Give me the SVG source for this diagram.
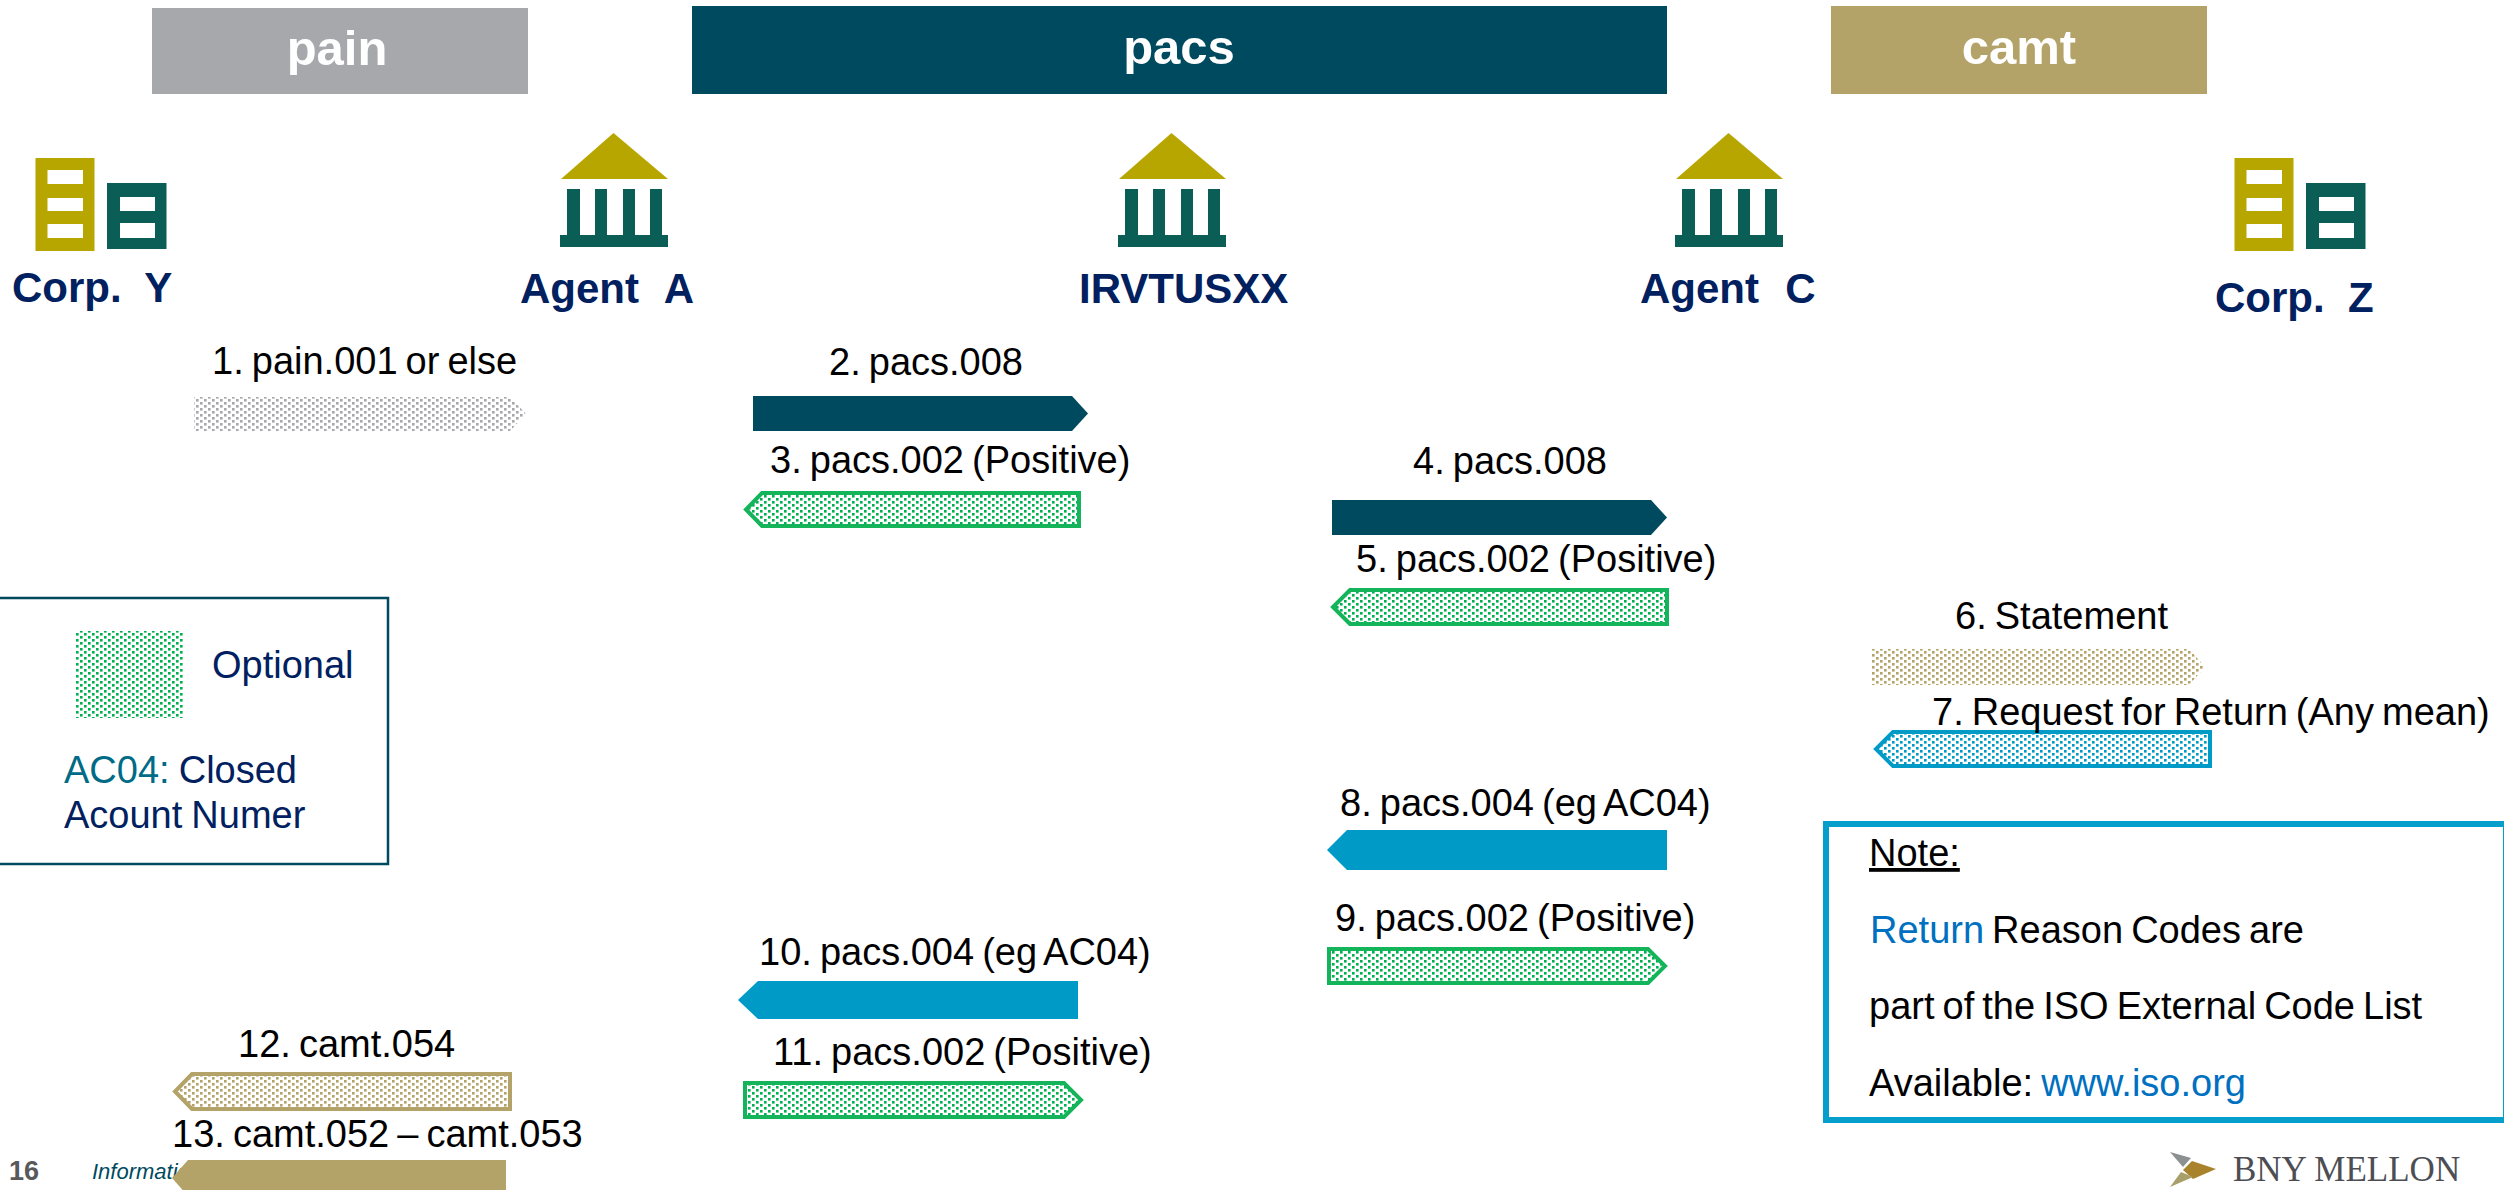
<svg xmlns="http://www.w3.org/2000/svg" width="2504" height="1190" viewBox="0 0 2504 1190">
<style>
text{font-family:"Liberation Sans",Arial,sans-serif;white-space:pre}
.m{font-size:38px;fill:#000;word-spacing:-2.500px}
.n{font-size:42px;font-weight:bold;fill:#002060}
.w{word-spacing:1.5px}
.h{font-size:49px;font-weight:bold;fill:#fff;text-anchor:middle}
.l{font-size:38px;fill:#002060;word-spacing:-1.5px}
.gold{fill:#b8a600}.teal{fill:#0a5e55}.win{fill:#fff}
</style>
<defs>
<pattern id="dg" width="8" height="6" patternUnits="userSpaceOnUse"><rect width="8" height="6" fill="#fff"/><rect width="2.600" height="2.600" fill="#00b050"/><rect x="4" y="3" width="2.600" height="2.600" fill="#00b050"/></pattern>
<pattern id="dt" width="8" height="6" patternUnits="userSpaceOnUse"><rect width="8" height="6" fill="#fff"/><rect width="2.600" height="2.600" fill="#b3a369"/><rect x="4" y="3" width="2.600" height="2.600" fill="#b3a369"/></pattern>
<pattern id="da" width="8" height="6" patternUnits="userSpaceOnUse"><rect width="8" height="6" fill="#fff"/><rect width="2.600" height="2.600" fill="#a7a8ab"/><rect x="4" y="3" width="2.600" height="2.600" fill="#a7a8ab"/></pattern>
<pattern id="db" width="8" height="6" patternUnits="userSpaceOnUse"><rect width="8" height="6" fill="#fff"/><rect width="2.600" height="2.600" fill="#009ac7"/><rect x="4" y="3" width="2.600" height="2.600" fill="#009ac7"/></pattern>
<g id="corp"><rect class="gold" x="35.500" y="158" width="59" height="93"/><rect class="win" x="47.500" y="170" width="35.500" height="14"/><rect class="win" x="47.500" y="198" width="35.500" height="13"/><rect class="win" x="47.500" y="224" width="35.500" height="14"/><rect class="teal" x="107" y="183" width="59.500" height="66"/><rect class="win" x="120" y="197" width="35" height="14"/><rect class="win" x="120" y="223" width="35" height="15"/></g>
<g id="bank"><path class="gold" d="M613.500 133L668 179H561Z"/><path class="teal" d="M567 189h13v46h15v-46h12v46h16v-46h12v46h15v-46h12v46h6v12H560v-12h7Z"/></g>
</defs>
<rect width="2504" height="1190" fill="#fff"/>
<g id="band-pain"><rect x="152" y="8" width="376" height="86" fill="#a7a8ab"/><text class="h" x="337" y="65">pain</text></g>
<g id="band-pacs"><rect x="692" y="6" width="975" height="88" fill="#004a5f"/><text class="h" x="1179" y="64">pacs</text></g>
<g id="band-camt"><rect x="1831" y="6" width="376" height="88" fill="#b3a369"/><text class="h" x="2019" y="64">camt</text></g>
<g id="corp-y"><use href="#corp"/><text class="n" x="12" y="302">Corp.  Y</text></g>
<g id="agent-a"><use href="#bank"/><text class="n w" x="520" y="303">Agent  A</text></g>
<g id="irvtusxx"><use href="#bank" x="558"/><text class="n" x="1079" y="303">IRVTUSXX</text></g>
<g id="agent-c"><use href="#bank" x="1115"/><text class="n w" x="1640" y="303">Agent  C</text></g>
<g id="corp-z"><g transform="translate(2199 0)"><use href="#corp"/></g><text class="n" x="2215" y="312">Corp.  Z</text></g>
<g id="footer"><text x="9" y="1180" font-size="27" font-weight="bold" fill="#58595b">16</text><text x="92" y="1179" font-size="22" font-style="italic" fill="#004a5f">Informatio</text></g>
<g id="connectors">
<path d="M194 397H510L526 414L510 431H194Z" fill="url(#da)"/>
<path d="M753 396H1072L1088 413.500L1072 431H753Z" fill="#004a5f"/>
<path d="M1079 493H762L746 509.500L762 526H1079Z" fill="url(#dg)" stroke="#14b45a" stroke-width="4"/>
<path d="M1332 500H1651L1667 517.500L1651 535H1332Z" fill="#004a5f"/>
<path d="M1667 590H1350L1333 607L1350 624H1667Z" fill="url(#dg)" stroke="#14b45a" stroke-width="4"/>
<path d="M1872 649H2189L2205 667L2189 685H1872Z" fill="url(#dt)"/>
<path d="M2210 732H1893L1876 749L1893 766H2210Z" fill="url(#db)" stroke="#009ac7" stroke-width="4"/>
<path d="M1667 830H1347L1327 850L1347 870H1667Z" fill="#009ac7"/>
<path d="M1329 949V983H1648L1665 966L1648 949Z" fill="url(#dg)" stroke="#14b45a" stroke-width="4"/>
<path d="M1078 981H758L738 1000L758 1019H1078Z" fill="#009ac7"/>
<path d="M745 1083V1117H1064L1081 1100L1064 1083Z" fill="url(#dg)" stroke="#14b45a" stroke-width="4"/>
<path d="M510 1074H192L175 1091.500L192 1109H510Z" fill="url(#dt)" stroke="#b3a369" stroke-width="4"/>
<path d="M506 1160H188L172 1178L188 1196H506Z" fill="#b3a369"/>
</g>
<g id="labels">
<text class="m" x="212" y="374">1. pain.001 or else</text>
<text class="m" x="829" y="375">2. pacs.008</text>
<text class="m" x="770" y="473">3. pacs.002 (Positive)</text>
<text class="m" x="1413" y="474">4. pacs.008</text>
<text class="m" x="1356" y="572">5. pacs.002 (Positive)</text>
<text class="m" x="1955" y="629">6. Statement</text>
<text class="m" x="1932" y="725">7. Request for Return (Any mean)</text>
<text class="m" x="1340" y="816">8. pacs.004 (eg AC04)</text>
<text class="m" x="1335" y="931">9. pacs.002 (Positive)</text>
<text class="m" x="759" y="965">10. pacs.004 (eg AC04)</text>
<text class="m" x="773" y="1065">11. pacs.002 (Positive)</text>
<text class="m" x="238" y="1057">12. camt.054</text>
<text class="m" x="172" y="1147">13. camt.052 – camt.053</text>
</g>
<g id="legend"><rect x="-5" y="598" width="393" height="266" fill="none" stroke="#004a5f" stroke-width="2.500"/><rect x="75" y="631" width="109" height="87" fill="url(#dg)"/><text class="l" x="212" y="678">Optional</text><text class="l" x="64" y="783"><tspan fill="#006b87">AC04:</tspan> Closed</text><text class="l" x="64" y="828">Acount Numer</text></g>
<g id="note"><rect x="1826" y="824" width="680" height="296" fill="#fff" stroke="#069ecb" stroke-width="6"/><text class="m" x="1869" y="866" text-decoration="underline">Note:</text><text class="m" x="1870" y="943"><tspan fill="#0070c0">Return</tspan> Reason Codes are</text><text class="m" x="1869" y="1019">part of the ISO External Code List</text><text class="m" x="1869" y="1096">Available: <tspan fill="#0070c0">www.iso.org</tspan></text></g>
<g id="logo"><path d="M2170 1152L2191 1158L2183 1167Z" fill="#8c9091"/><path d="M2192 1161L2216 1169L2193 1179L2183 1170Z" fill="#a9832b"/><path d="M2170 1187L2181 1172L2193 1177Z" fill="#a89f6a"/><text x="2233" y="1181" font-size="35" fill="#4d4e53" style="font-family:'Liberation Serif',serif">BNY MELLON</text></g>
</svg>
